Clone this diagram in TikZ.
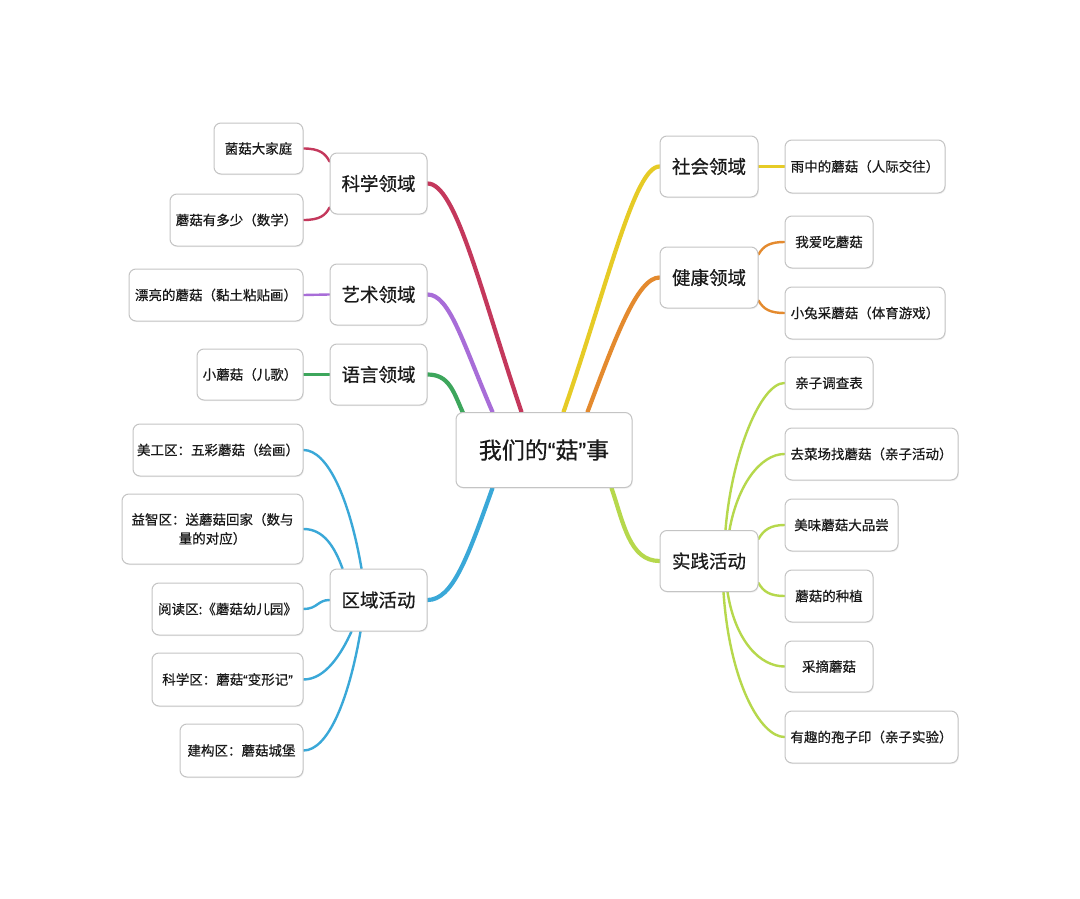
\documentclass[tikz,border=0pt]{standalone}
\usepackage{fontspec}
\setmainfont{Noto Sans CJK SC}[FakeBold=0.5]
\newfontfamily\qfont{Liberation Sans}[FakeBold=0.5]
\usetikzlibrary{calc,backgrounds,shadows}
\definecolor{boxgray}{HTML}{C4C4C4}
\definecolor{txt}{HTML}{1A1A1A}
\definecolor{csciC}{HTML}{C4385C}
\definecolor{cartC}{HTML}{A86DD8}
\definecolor{clangC}{HTML}{3DA65C}
\definecolor{czoneC}{HTML}{3AA8D8}
\definecolor{csocC}{HTML}{E6CB26}
\definecolor{cheaC}{HTML}{E48A2E}
\definecolor{cpracC}{HTML}{B6D84C}
\newcommand{\myLq}{{\qfont “}}
\newcommand{\myRq}{{\qfont ”}}
\tikzset{
  box/.style={draw=boxgray, line width=1pt, rounded corners=7pt, fill=white,
    inner sep=0pt, align=center, text=txt,
    drop shadow={opacity=0.10, shadow xshift=0.8pt, shadow yshift=-1.2pt}},
  rootbox/.style={box, font=\fontsize{23}{28}\selectfont},
  lvlbox/.style={box, font=\fontsize{18.5}{22}\selectfont},
  leafbox/.style={box, font=\fontsize{13.5}{19}\selectfont},
  mainline/.style={line width=4.2pt, line cap=round},
  subline/.style={line width=2.4pt, line cap=round},
}
\begin{document}
\begin{tikzpicture}[x=1pt,y=-1pt]
\useasboundingbox (0,0) rectangle (1080,899);
% root
\node[rootbox, minimum width=176, minimum height=75] (root) at (544,450) {我们的\myLq 菇\myRq 事};
% level 1
\node[lvlbox, minimum width=97, minimum height=61] (sci)  at (378.5,183.5) {科学领域};
\node[lvlbox, minimum width=97, minimum height=61] (art)  at (378.5,294.5) {艺术领域};
\node[lvlbox, minimum width=97, minimum height=61] (lang) at (378.5,374.5) {语言领域};
\node[lvlbox, minimum width=97, minimum height=62] (zone) at (378.5,600) {区域活动};
\node[lvlbox, minimum width=98, minimum height=61] (soc)  at (709,166.5) {社会领域};
\node[lvlbox, minimum width=98, minimum height=61] (hea)  at (709,277.5) {健康领域};
\node[lvlbox, minimum width=98, minimum height=61] (prac) at (709,561) {实践活动};
% leaves left
\node[leafbox, minimum width=89, minimum height=51]  (s1) at (258.5,148.5) {菌菇大家庭};
\node[leafbox, minimum width=133, minimum height=52] (s2) at (236.5,220) {蘑菇有多少（数学）};
\node[leafbox, minimum width=174, minimum height=52] (a1) at (216,295) {漂亮的蘑菇（黏土粘贴画）};
\node[leafbox, minimum width=106, minimum height=51] (l1) at (250,374.5) {小蘑菇（儿歌）};
\node[leafbox, minimum width=170, minimum height=52] (z1) at (218,450) {美工区：五彩蘑菇（绘画）};
\node[leafbox, minimum width=181, minimum height=70] (z2) at (212.5,529) {益智区：送蘑菇回家（数与\\量的对应）};
\node[leafbox, minimum width=151, minimum height=52] (z3) at (227.5,609) {阅读区:《蘑菇幼儿园》};
\node[leafbox, minimum width=151, minimum height=53] (z4) at (227.5,679.5) {科学区：蘑菇\myLq 变形记\myRq};
\node[leafbox, minimum width=123, minimum height=53] (z5) at (241.5,750.5) {建构区：蘑菇城堡};
% leaves right
\node[leafbox, minimum width=160, minimum height=53] (so1) at (865,166.5) {雨中的蘑菇（人际交往）};
\node[leafbox, minimum width=88, minimum height=52]  (h1) at (829,242) {我爱吃蘑菇};
\node[leafbox, minimum width=160, minimum height=52] (h2) at (865,313) {小兔采蘑菇（体育游戏）};
\node[leafbox, minimum width=88, minimum height=52]  (p1) at (829,383) {亲子调查表};
\node[leafbox, minimum width=173, minimum height=52] (p2) at (871.5,454) {去菜场找蘑菇（亲子活动）};
\node[leafbox, minimum width=113, minimum height=52] (p3) at (841.5,525) {美味蘑菇大品尝};
\node[leafbox, minimum width=88, minimum height=52]  (p4) at (829,596) {蘑菇的种植};
\node[leafbox, minimum width=88, minimum height=51]  (p5) at (829,666.5) {采摘蘑菇};
\node[leafbox, minimum width=173, minimum height=52] (p6) at (871.5,737) {有趣的孢子印（亲子实验）};
\begin{scope}[on background layer]
\fill[white] (0,0) rectangle (1080,899);
% main branches
\draw[mainline, csciC] (sci.east) .. controls +(28,0) and +(-42,-125) .. ($(root.north west)+(66,0)$);
\draw[mainline, cartC] (art.east) .. controls +(22,0) and +(-30,-70) .. ($(root.north west)+(37,0)$);
\draw[mainline, clangC] (lang.east) .. controls +(22,0) and +(-10,-22) .. ($(root.north west)+(8,2)$);
\draw[mainline, czoneC] (zone.east) .. controls +(25,0) and +(-25,70) .. ($(root.south west)+(37,0)$);
\draw[mainline, csocC] (soc.west) .. controls +(-25,0) and +(45,-130) .. ($(root.north west)+(108,0)$);
\draw[mainline, cheaC] (hea.west) .. controls +(-22,0) and +(28,-75) .. ($(root.north west)+(132,0)$);
\draw[mainline, cpracC] (prac.west) .. controls +(-30,0) and +(12,35) .. ($(root.south west)+(156,0)$);
% science children
\draw[subline, csciC] (s1.east) .. controls +(16,0) and +(-4,-8) .. ($(sci.north west)+(0,9)$);
\draw[subline, csciC] (s2.east) .. controls +(16,0) and +(-4,8) .. ($(sci.south west)+(0,-7)$);
\draw[subline, cartC] (a1.east) -- (art.west);
\draw[subline, clangC] (l1.east) -- (lang.west);
% zone children
\draw[subline, czoneC] (z1.east) .. controls +(24,0) and +(-12,-70) .. ($(zone.north west)+(32,0)$);
\draw[subline, czoneC] (z2.east) .. controls +(20,0) and +(-8,-22) .. ($(zone.north west)+(13,0)$);
\draw[subline, czoneC] (z3.east) .. controls +(14,0) and +(-12,0) .. (zone.west);
\draw[subline, czoneC] (z4.east) .. controls +(22,0) and +(-10,22) .. ($(zone.south west)+(22,0)$);
\draw[subline, czoneC] (z5.east) .. controls +(24,0) and +(-12,70) .. ($(zone.south west)+(31,0)$);
% social / health
\draw[subline, csocC] (soc.east) -- (so1.west);
\draw[subline, cheaC] ($(hea.north east)+(0,8)$) .. controls +(5,-9) and +(-14,0) .. (h1.west);
\draw[subline, cheaC] ($(hea.south east)+(0,-8)$) .. controls +(5,9) and +(-14,0) .. (h2.west);
% practice children
\draw[subline, cpracC] ($(prac.north west)+(66,0)$) .. controls +(6,-75) and +(-24,0) .. (p1.west);
\draw[subline, cpracC] ($(prac.north west)+(70,0)$) .. controls +(8,-45) and +(-24,0) .. (p2.west);
\draw[subline, cpracC] ($(prac.north east)+(0,9)$) .. controls +(5,-9) and +(-14,0) .. (p3.west);
\draw[subline, cpracC] ($(prac.south east)+(0,-9)$) .. controls +(5,9) and +(-14,0) .. (p4.west);
\draw[subline, cpracC] ($(prac.south west)+(68,0)$) .. controls +(8,50) and +(-24,0) .. (p5.west);
\draw[subline, cpracC] ($(prac.south west)+(64,0)$) .. controls +(6,90) and +(-24,0) .. (p6.west);
\end{scope}
\end{tikzpicture}
\end{document}
